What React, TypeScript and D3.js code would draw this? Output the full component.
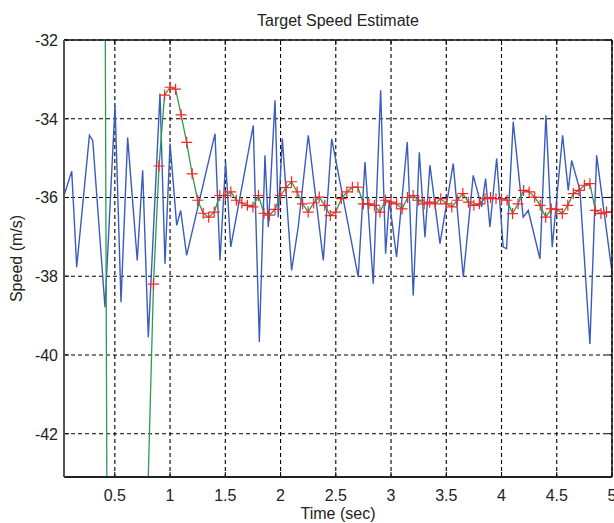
import React from "react";
import * as d3 from "d3";

const measT = [
  0.04, 0.11, 0.155, 0.27, 0.3, 0.411, 0.502, 0.556, 0.616, 0.703, 0.752, 0.803,
  0.909, 0.954, 1.0, 1.06, 1.096, 1.15, 1.407, 1.452, 1.503, 1.549, 1.753, 1.808,
  1.859, 1.889, 1.95, 1.979, 2.016, 2.1, 2.16, 2.251, 2.387, 2.463, 2.703, 2.764,
  2.839, 2.906, 2.951, 2.984, 3.05, 3.147, 3.201, 3.256, 3.307, 3.352, 3.443, 3.563,
  3.654, 3.744, 3.82, 3.856, 3.895, 3.956, 4.015, 4.046, 4.106, 4.196, 4.242, 4.348,
  4.402, 4.459, 4.553, 4.604, 4.635, 4.71, 4.8, 4.861, 4.966, 5.0,
];
const measV = [
  -35.96, -35.33, -37.77, -34.42, -34.55, -38.79, -33.66, -38.66, -34.48, -37.6, -35.31, -39.55,
  -33.36, -37.68, -34.63, -36.71, -36.33, -37.47, -34.38, -37.6, -35.1, -37.26, -34.17, -39.67,
  -34.93, -36.75, -33.53, -36.5, -34.5, -37.85, -36.75, -34.42, -37.6, -34.51, -38.02, -35.1,
  -38.19, -33.28, -37.43, -36.07, -37.51, -34.59, -38.49, -34.85, -37.01, -35.18, -37.17, -35.14,
  -38.02, -35.44, -36.24, -35.52, -36.75, -35.01, -37.26, -37.3, -34.08, -36.5, -36.33, -37.56,
  -33.91, -37.26, -34.42, -35.82, -35.06, -35.82, -39.72, -34.93, -37.17, -37.9,
];

// speed estimate (green line, red + markers)
const estT = [
  0.4, 0.45, 0.5, 0.55, 0.6, 0.65, 0.7, 0.75, 0.8, 0.85, 0.9, 0.95, 1.0, 1.05, 1.1, 1.15,
  1.2, 1.25, 1.3, 1.35, 1.4, 1.45, 1.5, 1.55, 1.6, 1.65, 1.7, 1.75, 1.8, 1.85, 1.9, 1.95,
  2.0, 2.05, 2.1, 2.15, 2.2, 2.25, 2.3, 2.35, 2.4, 2.45, 2.5, 2.55, 2.6, 2.65, 2.7, 2.75,
  2.8, 2.85, 2.9, 2.95, 3.0, 3.05, 3.1, 3.15, 3.2, 3.25, 3.3, 3.35, 3.4, 3.45, 3.5, 3.55,
  3.6, 3.65, 3.7, 3.75, 3.8, 3.85, 3.9, 3.95, 4.0, 4.05, 4.1, 4.15, 4.2, 4.25, 4.3, 4.35,
  4.4, 4.45, 4.5, 4.55, 4.6, 4.65, 4.7, 4.75, 4.8, 4.85, 4.9, 4.95, 5.0,
];
const estV = [
  -21, -61, -58, -55, -52, -49, -47, -45, -43.4, -38.2, -35.2, -33.4, -33.2, -33.25, -33.9, -34.6,
  -35.4, -36.07, -36.4, -36.5, -36.37, -35.95, -35.95, -35.86, -36.07, -36.14, -36.2, -36.24, -35.95, -36.4, -36.45, -36.3,
  -35.95, -35.75, -35.6, -35.86, -36.16, -36.37, -36.14, -35.99, -36.2, -36.46, -36.37, -36.03, -35.86, -35.74, -35.74, -36.16,
  -36.16, -36.2, -36.37, -36.07, -36.12, -36.16, -36.29, -36.0, -35.95, -36.07, -36.16, -36.12, -36.16, -36.03, -36.16, -36.24,
  -36.07, -35.9, -36.12, -36.2, -36.16, -36.03, -36.0, -36.03, -36.03, -36.07, -36.41, -36.16, -35.82, -35.86, -35.99, -36.2,
  -36.5, -36.29, -36.3, -36.41, -36.2, -35.9, -35.82, -35.69, -35.65, -36.33, -36.41, -36.37, -36.37,
];

const xTicks = [0.5, 1, 1.5, 2, 2.5, 3, 3.5, 4, 4.5, 5];
const xTickLabels = ["0.5", "1", "1.5", "2", "2.5", "3", "3.5", "4", "4.5", "5"];
const yTicks = [-42, -40, -38, -36, -34, -32];
const yTickLabels = ["-42", "-40", "-38", "-36", "-34", "-32"];

const W = 614;
const H = 523;
const left = 64;
const right = 612;
const top = 40;
const bottom = 477;
const font = "'Liberation Sans', Arial, sans-serif";

export default function App() {
  const x = d3.scaleLinear().domain([0.04, 5]).range([left, right]);
  const y = d3.scaleLinear().domain([-43.1, -32]).range([bottom, top]);

  const meas = measT.map((t, i) => [t, measV[i]] as [number, number]);
  const est = estT.map((t, i) => [t, estV[i]] as [number, number]);
  const line = d3
    .line<[number, number]>()
    .x((d) => x(d[0]))
    .y((d) => y(d[1]));

  return (
    <svg
      width={W}
      height={H}
      style={{ position: "absolute", left: 0, top: 0, background: "#fff" }}
    >
      <defs>
        <clipPath id="plotclip">
          <rect x={left} y={top} width={right - left} height={bottom - top} />
        </clipPath>
      </defs>
      <rect x={0} y={0} width={W} height={H} fill="#fff" />

      {/* grid */}
      <g stroke="#000" strokeWidth={1.1} strokeDasharray="4,3">
        {xTicks.map((t) => (
          <line key={"gx" + t} x1={x(t)} x2={x(t)} y1={top} y2={bottom} />
        ))}
        {yTicks.map((t) => (
          <line key={"gy" + t} x1={left} x2={right} y1={y(t)} y2={y(t)} />
        ))}
      </g>

      <g clipPath="url(#plotclip)">
        <path d={line(meas) || ""} fill="none" stroke="#3b5cbd" strokeWidth={1.4} />
        <path d={line(est) || ""} fill="none" stroke="#2e9a50" strokeWidth={1.3} />
        {est.map((d, i) => (
          <path
            key={"m" + i}
            transform={`translate(${x(d[0])},${y(d[1])})`}
            d="M-5.5,0H5.5M0,-5.5V5.5"
            stroke="#ff2222"
            strokeWidth={1.2}
            fill="none"
          />
        ))}
      </g>

      {/* ticks */}
      <g stroke="#000" strokeWidth={1}>
        {xTicks.map((t) => (
          <g key={"tx" + t}>
            <line x1={x(t)} x2={x(t)} y1={bottom} y2={bottom - 5} />
            <line x1={x(t)} x2={x(t)} y1={top} y2={top + 5} />
          </g>
        ))}
        {yTicks.map((t) => (
          <g key={"ty" + t}>
            <line x1={left} x2={left + 5} y1={y(t)} y2={y(t)} />
            <line x1={right} x2={right - 5} y1={y(t)} y2={y(t)} />
          </g>
        ))}
      </g>

      {/* box */}
      <line x1={left} x2={right} y1={top} y2={top} stroke="#111" strokeWidth={1.5} />
      <line x1={right} x2={right} y1={top} y2={bottom} stroke="#111" strokeWidth={1.5} />
      <line x1={left} x2={right} y1={bottom} y2={bottom} stroke="#222" strokeWidth={1.8} />
      <line x1={left} x2={left} y1={top} y2={bottom} stroke="#555" strokeWidth={2} />

      {/* tick labels */}
      <g fontFamily={font} fontSize={16} fill="#222">
        {xTicks.map((t, i) => (
          <text key={"lx" + t} x={x(t)} y={bottom + 24} textAnchor="middle">
            {xTickLabels[i]}
          </text>
        ))}
        {yTicks.map((t, i) => (
          <text key={"ly" + t} x={left - 6} y={y(t) + 6} textAnchor="end">
            {yTickLabels[i]}
          </text>
        ))}
      </g>

      <text
        x={(left + right) / 2}
        y={26}
        textAnchor="middle"
        fontFamily={font}
        fontSize={16}
        fill="#222"
      >
        Target Speed Estimate
      </text>
      <text
        x={(left + right) / 2}
        y={519}
        textAnchor="middle"
        fontFamily={font}
        fontSize={16}
        fill="#222"
      >
        Time (sec)
      </text>
      <text
        transform={`translate(22,${(top + bottom) / 2}) rotate(-90)`}
        textAnchor="middle"
        fontFamily={font}
        fontSize={16}
        fill="#222"
      >
        Speed (m/s)
      </text>
    </svg>
  );
}
